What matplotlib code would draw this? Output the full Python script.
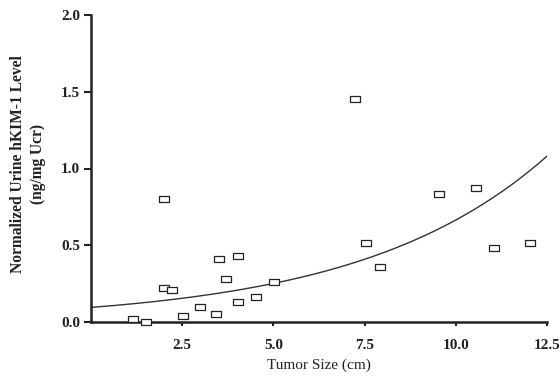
import numpy as np
import matplotlib
matplotlib.use("Agg")
import matplotlib.pyplot as plt
from matplotlib.path import Path

# Data
tumor_size = [1.15, 1.5, 2.0, 2.0, 2.23, 2.53, 3.0, 3.43, 3.52, 3.71, 4.04, 4.04,
              4.53, 5.01, 7.23, 7.54, 7.92, 9.54, 10.56, 11.06, 12.04]
kim1_level = [0.02, 0.0, 0.80, 0.22, 0.21, 0.04, 0.095, 0.05, 0.41, 0.28, 0.43, 0.13,
              0.16, 0.26, 1.45, 0.515, 0.36, 0.835, 0.875, 0.48, 0.515]
# Exponential fit y = a * exp(b * x)
fit_a = 0.095
fit_b = 0.1945
x_ticks = [2.5, 5.0, 7.5, 10.0, 12.5]
x_ticklabels = ["2.5", "5.0", "7.5", "10.0", "12.5"]
y_ticks = [0.0, 0.5, 1.0, 1.5, 2.0]
y_ticklabels = ["0.0", "0.5", "1.0", "1.5", "2.0"]

plt.rcParams['font.family'] = ['Liberation Serif', 'DejaVu Serif']

fig = plt.figure(figsize=(5.6, 3.82), dpi=100)
ax = fig.add_axes([91/560, 1 - 322/382, (547-91)/560, (322-15)/382])

rect = Path([(-1, -0.55), (1, -0.55), (1, 0.55), (-1, 0.55), (-1, -0.55)],
            [Path.MOVETO, Path.LINETO, Path.LINETO, Path.LINETO, Path.CLOSEPOLY])
ax.plot(tumor_size, kim1_level, linestyle='none', marker=rect, markersize=6.6,
        markerfacecolor='white', markeredgecolor='#222222', markeredgewidth=0.9,
        clip_on=False, zorder=3)

xs = np.linspace(0, 12.5, 200)
ax.plot(xs, fit_a * np.exp(fit_b * xs), color='#333333', linewidth=1.0, zorder=2)

ax.set_xlim(0, 12.5)
ax.set_ylim(0, 2.0)
ax.set_xticks(x_ticks)
ax.set_xticklabels(x_ticklabels, fontweight='bold', fontsize=11)
ax.set_yticks(y_ticks)
ax.set_yticklabels(y_ticklabels, fontweight='bold', fontsize=11)
ax.tick_params(axis='x', direction='out', length=3, width=1.5, pad=9, colors='#222222')
ax.tick_params(axis='y', direction='out', length=5, width=1.5, pad=3, colors='#222222')

for s in ['top', 'right']:
    ax.spines[s].set_visible(False)
for s in ['left', 'bottom']:
    ax.spines[s].set_linewidth(1.8)
    ax.spines[s].set_color('#222222')

ax.set_xlabel("Tumor Size (cm)", fontsize=11, labelpad=5, color='#222222')
ax.set_ylabel("Normalized Urine hKIM-1 Level\n(ng/mg Ucr)", fontsize=11.2,
              fontweight='bold', color='#222222', linespacing=1.4)
ax.yaxis.set_label_coords(-0.098, 0.515)

fig.savefig("out.png", dpi=100)
